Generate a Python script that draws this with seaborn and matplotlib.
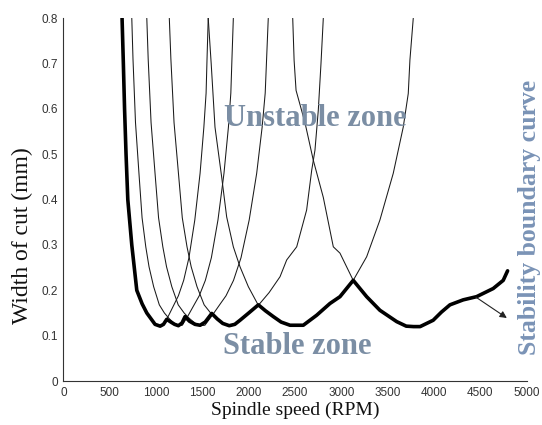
import numpy as np
import pandas as pd
import matplotlib
matplotlib.use("Agg")
import matplotlib.pyplot as plt
import seaborn as sns

# ---- data (spindle speed in RPM, width of cut in mm) ----
lobe1_rpm = [2475, 2490, 2511, 2607, 2697, 2805, 2913, 2985, 3128, 3273, 3416, 3597, 3700, 3780, 3850, 3991, 4080, 4172, 4315, 4459, 4639, 4747, 4794]
lobe1_w = [0.80, 0.707, 0.641, 0.570, 0.487, 0.405, 0.296, 0.282, 0.222, 0.186, 0.156, 0.131, 0.121, 0.120, 0.120, 0.134, 0.152, 0.168, 0.179, 0.186, 0.204, 0.222, 0.243]

lobe2_rpm = [1563, 1595, 1636, 1708, 1762, 1834, 1906, 1996, 2104, 2180, 2266, 2350, 2446, 2500, 2589, 2733, 2877, 2985, 3128, 3273, 3416, 3560, 3668, 3722, 3740, 3776]
lobe2_w = [0.80, 0.70, 0.56, 0.45, 0.362, 0.296, 0.252, 0.208, 0.167, 0.155, 0.142, 0.130, 0.123, 0.122, 0.123, 0.145, 0.171, 0.186, 0.222, 0.274, 0.355, 0.458, 0.560, 0.634, 0.708, 0.80]

lobe3_rpm = [1143, 1160, 1194, 1245, 1283, 1334, 1379, 1442, 1519, 1589, 1653, 1716, 1780, 1850, 1906, 2000, 2104, 2220, 2338, 2410, 2518, 2625, 2680, 2715, 2751, 2780, 2805]
lobe3_w = [0.80, 0.71, 0.57, 0.45, 0.36, 0.296, 0.252, 0.208, 0.168, 0.150, 0.138, 0.128, 0.122, 0.125, 0.134, 0.150, 0.167, 0.195, 0.230, 0.267, 0.296, 0.377, 0.465, 0.509, 0.597, 0.70, 0.80]

lobe4_rpm = [900, 915, 946, 992, 1027, 1073, 1113, 1170, 1239, 1303, 1360, 1418, 1475, 1527, 1607, 1696, 1755, 1836, 1917, 2005, 2086, 2145, 2178, 2193, 2211]
lobe4_w = [0.80, 0.71, 0.57, 0.45, 0.36, 0.296, 0.252, 0.208, 0.168, 0.150, 0.138, 0.128, 0.122, 0.123, 0.145, 0.171, 0.188, 0.222, 0.272, 0.355, 0.458, 0.56, 0.635, 0.71, 0.80]

lobe5_rpm = [738, 751, 778, 818, 849, 889, 924, 974, 1035, 1090, 1140, 1191, 1241, 1283, 1348, 1419, 1466, 1532, 1597, 1668, 1733, 1781, 1807, 1819, 1834]
lobe5_w = [0.80, 0.71, 0.57, 0.45, 0.36, 0.296, 0.252, 0.208, 0.168, 0.150, 0.138, 0.128, 0.122, 0.123, 0.145, 0.171, 0.188, 0.222, 0.272, 0.355, 0.458, 0.56, 0.635, 0.71, 0.80]

lobe6_rpm = [633, 647, 660, 676, 695, 738, 792, 850, 900, 989, 1044, 1080, 1137, 1200, 1241, 1298, 1355, 1418, 1475, 1516, 1540, 1550, 1563]
lobe6_w = [0.80, 0.70, 0.60, 0.50, 0.40, 0.30, 0.20, 0.17, 0.15, 0.125, 0.121, 0.123, 0.145, 0.171, 0.188, 0.222, 0.272, 0.355, 0.458, 0.56, 0.635, 0.71, 0.80]

boundary_rpm = [633, 647, 660, 676, 695, 738, 792, 850, 900, 989, 1044, 1080, 1115, 1160, 1200, 1241, 1280, 1313, 1360, 1420, 1475, 1530, 1601, 1660, 1720, 1790, 1850, 1906, 2000, 2104, 2180, 2266, 2350, 2446, 2589, 2733, 2877, 2985, 3128, 3273, 3416, 3597, 3700, 3780, 3850, 3991, 4080, 4172, 4315, 4459, 4639, 4747, 4794]
boundary_w = [0.80, 0.70, 0.60, 0.50, 0.40, 0.30, 0.20, 0.17, 0.15, 0.125, 0.121, 0.125, 0.136, 0.130, 0.125, 0.122, 0.128, 0.142, 0.132, 0.125, 0.123, 0.130, 0.149, 0.137, 0.127, 0.122, 0.125, 0.134, 0.150, 0.168, 0.155, 0.142, 0.130, 0.123, 0.123, 0.145, 0.171, 0.186, 0.222, 0.186, 0.156, 0.131, 0.121, 0.120, 0.120, 0.134, 0.152, 0.168, 0.179, 0.186, 0.204, 0.222, 0.243]

x_ticks = [0, 500, 1000, 1500, 2000, 2500, 3000, 3500, 4000, 4500, 5000]
y_ticks = [0, 0.1, 0.2, 0.3, 0.4, 0.5, 0.6, 0.7, 0.8]
y_tick_labels = ["0", "0.1", "0.2", "0.3", "0.4", "0.5", "0.6", "0.7", "0.8"]

# ---- build tidy table ----
lobes = {
    "lobe1": (lobe1_rpm, lobe1_w),
    "lobe2": (lobe2_rpm, lobe2_w),
    "lobe3": (lobe3_rpm, lobe3_w),
    "lobe4": (lobe4_rpm, lobe4_w),
    "lobe5": (lobe5_rpm, lobe5_w),
    "lobe6": (lobe6_rpm, lobe6_w),
}
frames = [pd.DataFrame({"rpm": r, "w": w, "lobe": name}) for name, (r, w) in lobes.items()]
df = pd.concat(frames, ignore_index=True)
bdf = pd.DataFrame({"rpm": boundary_rpm, "w": boundary_w})

sns.set_style("white")
plt.rcParams["font.family"] = ["Liberation Sans", "DejaVu Sans"]

fig = plt.figure(figsize=(5.42, 4.25), dpi=100)
ax = fig.add_axes([0.117, 0.1035, 0.8547, 0.8535])

sns.lineplot(data=df, x="rpm", y="w", units="lobe", estimator=None, sort=False,
             color="#1a1a1a", linewidth=0.75, ax=ax, legend=False)
sns.lineplot(data=bdf, x="rpm", y="w", estimator=None, sort=False,
             color="black", linewidth=2.6, ax=ax, legend=False)

ax.set_xlim(0, 5000)
ax.set_ylim(0, 0.8)
ax.set_xticks(x_ticks)
ax.set_xticklabels([str(t) for t in x_ticks])
ax.set_yticks(y_ticks)
ax.set_yticklabels(y_tick_labels)
ax.tick_params(direction="in", length=4, width=0.8, labelsize=8.5, colors="#333333")
ax.tick_params(axis="x", pad=4)
ax.tick_params(axis="y", pad=4)
for s in ["top", "right"]:
    ax.spines[s].set_visible(False)
for s in ["left", "bottom"]:
    ax.spines[s].set_color("#333333")
    ax.spines[s].set_linewidth(0.8)

serif = ["Liberation Serif", "DejaVu Serif"]
ax.set_xlabel("Spindle speed (RPM)", family=serif, fontsize=14, color="#111111")
ax.xaxis.set_label_coords(0.5, -0.057)
ax.set_ylabel("Width of cut (mm)", family=serif, fontsize=17, color="#111111")
ax.yaxis.set_label_coords(-0.066, 0.40)

zone_color = "#7b8ea4"
ax.text(2715, 0.58, "Unstable zone", family=serif, fontweight="bold", fontsize=22,
        color=zone_color, ha="center", va="center")
ax.text(2526, 0.076, "Stable zone", family=serif, fontweight="bold", fontsize=22,
        color=zone_color, ha="center", va="center")
ax.text(5030, 0.36, "Stability boundary curve", family=serif, fontweight="bold",
        fontsize=18.5, color="#7a93b6", rotation=90, ha="center", va="center",
        clip_on=False)

ax.annotate("", xy=(4786, 0.139), xytext=(4452, 0.185),
            arrowprops=dict(arrowstyle="-|>", color="#222222", lw=0.8,
                            mutation_scale=10, shrinkA=0, shrinkB=0))

fig.savefig("out.png", dpi=100)
